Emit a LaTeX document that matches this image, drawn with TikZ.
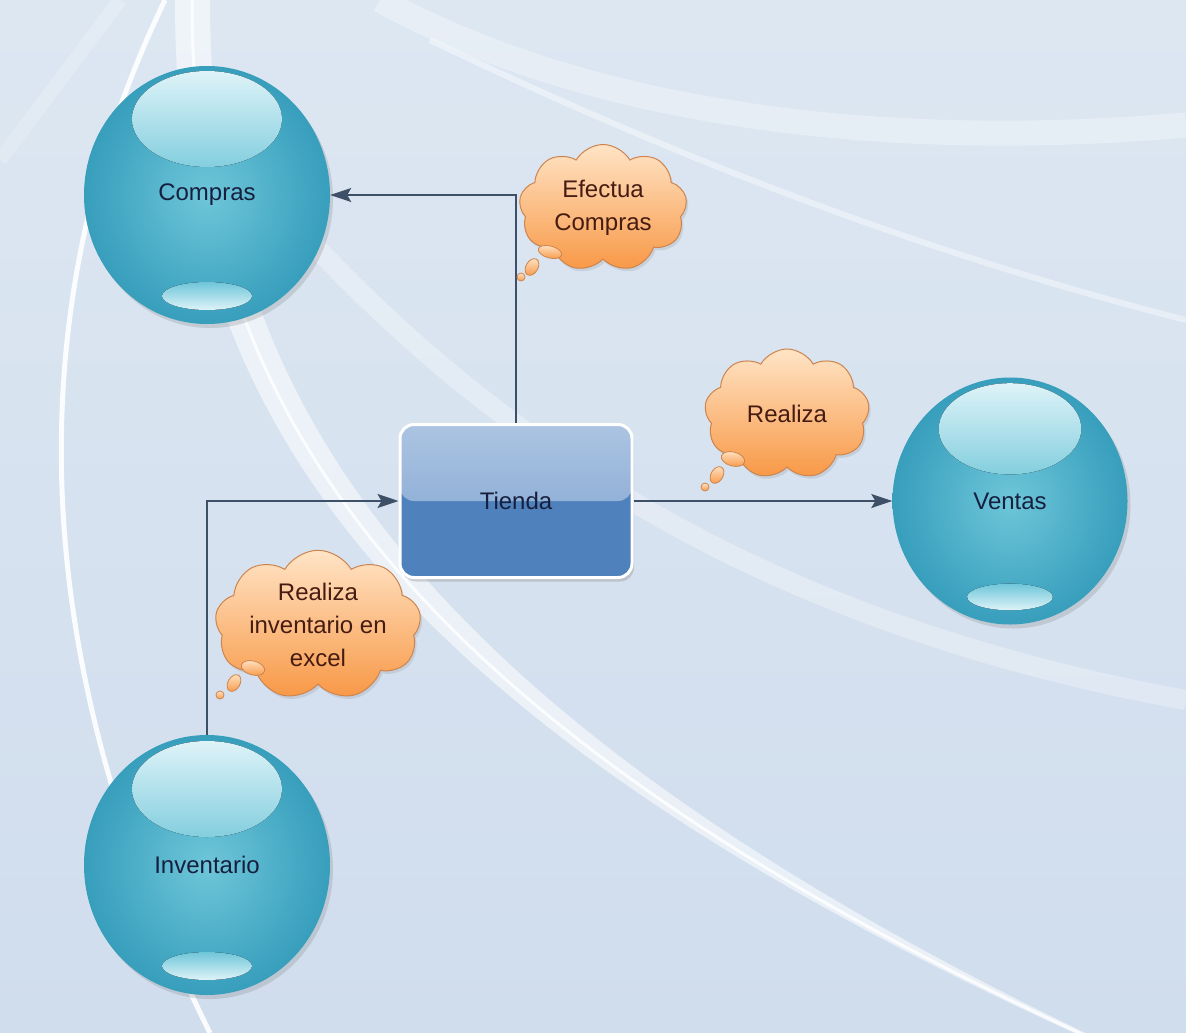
\documentclass[tikz,border=0pt]{standalone}
\usepackage{fontspec}
\setmainfont{Liberation Sans}
\usetikzlibrary{shapes.geometric,shapes.symbols,arrows.meta,shadows}
\definecolor{fondoA}{RGB}{221,231,242}
\definecolor{fondoB}{RGB}{208,221,237}
\definecolor{tealOut}{RGB}{55,158,188}
\definecolor{tealIn}{RGB}{110,198,217}
\definecolor{brillo}{RGB}{222,243,248}
\definecolor{azulArriba}{RGB}{172,196,226}
\definecolor{azulMedio}{RGB}{122,160,206}
\definecolor{azulAbajo}{RGB}{79,129,189}
\definecolor{nubeArriba}{RGB}{255,228,198}
\definecolor{nubeAbajo}{RGB}{248,152,70}
\definecolor{nubeBorde}{RGB}{205,132,78}
\definecolor{flechaC}{RGB}{62,80,104}
\definecolor{textoAzul}{RGB}{22,32,62}
\definecolor{textoNube}{RGB}{70,28,18}

\begin{document}
\begin{tikzpicture}[x=1pt,y=-1pt,
  esfera/.style={ellipse,minimum width=246pt,minimum height=258pt,inner color=tealIn,outer color=tealOut,
    text=textoAzul,font=\fontsize{24}{30}\selectfont,
    drop shadow={opacity=0.25,shadow xshift=3pt,shadow yshift=-4pt}},
  caja/.style={rectangle,rounded corners=14pt,minimum width=232pt,minimum height=153pt,draw=white,line width=3pt,
    fill=azulAbajo,text=textoAzul,font=\fontsize{24}{30}\selectfont,
    path picture={\fill[top color=azulArriba,bottom color=azulMedio] (path picture bounding box.north west) rectangle (path picture bounding box.east);},
    drop shadow={opacity=0.3,shadow xshift=2pt,shadow yshift=-4pt}},
  nube/.style={cloud,cloud puffs=9,cloud puff arc=120,cloud ignores aspect,inner sep=0pt,
    top color=nubeArriba,bottom color=nubeAbajo,draw=nubeBorde,line width=1pt,
    text=textoNube,align=center,font=\fontsize{24}{33}\selectfont,
    drop shadow={opacity=0.2,shadow xshift=2pt,shadow yshift=-3pt}},
  burbuja/.style={top color=nubeArriba,bottom color=nubeAbajo,draw=nubeBorde,line width=0.8pt},
  flecha/.style={draw=flechaC,line width=1.8pt,-{Stealth[length=21pt,width=14pt,inset=4pt]}}]

\useasboundingbox (0,0) rectangle (1186,1033);
\fill[top color=fondoA,bottom color=fondoB] (0,0) rectangle (1186,1033);

\begin{scope}
\clip (0,0) rectangle (1186,1033);
\draw[white,line width=5pt,opacity=0.9] (165,0) .. controls (20,300) and (20,650) .. (210,1033);
\fill[white,opacity=0.55] (175,0) .. controls (175,360) and (315,690) .. (1090,1040) -- (1100,1040) .. controls (345,680) and (210,340) .. (210,0) -- cycle;
\draw[white,line width=3pt,opacity=0.8] (192,0) .. controls (192,350) and (330,690) .. (1095,1040);
\draw[white,line width=25pt,opacity=0.3] (380,0) .. controls (600,120) and (900,150) .. (1186,125);
\draw[white,line width=6pt,opacity=0.4] (430,40) .. controls (700,170) and (950,260) .. (1186,320);
\draw[white,line width=20pt,opacity=0.3] (300,230) .. controls (520,470) and (800,630) .. (1186,700);
\draw[white,line width=14pt,opacity=0.18] (0,160) -- (120,0);
\end{scope}

\node[esfera] (Compras) at (207,195) {Compras};
\node[esfera,minimum width=235pt,minimum height=247pt] (Ventas) at (1010,501) {Ventas};
\node[esfera,minimum height=260pt] (Inventario) at (207,865) {Inventario};

\foreach \n/\s in {Compras/1,Ventas/0.95,Inventario/1}{
  \fill[top color=brillo,bottom color=tealIn!85!white] ([yshift={\s*76pt}]\n.center) ellipse [x radius={\s*75pt},y radius={\s*48pt}];
  \fill[top color=tealIn,bottom color=brillo] ([yshift={-\s*101pt}]\n.center) ellipse [x radius={\s*45pt},y radius={\s*14pt}];
}

\node[caja] (Tienda) at (516,501) {Tienda};

\draw[flecha] (Tienda.north) |- (Compras.east);
\draw[flecha] (Tienda.east) -- (Ventas.west);
\draw[flecha] (Inventario.north) |- (Tienda.west);

\node[nube,minimum width=168pt,minimum height=127pt] (nubeCompras) at (603,208) {Efectua\\Compras};
\node[nube,minimum width=165pt,minimum height=130pt] (nubeVentas) at (787,414) {Realiza};
\node[nube,minimum width=197pt,minimum height=126pt] (nubeInventario) at (318,625) {Realiza\\inventario en\\excel};

\foreach \x/\y/\a/\b/\r in {550/252/12/6/-15,532/267/6/9/-30,521/277/4/4/0,
                            733/459/12/7/-15,717/475/6/9/-30,705/487/4/4/0,
                            253/668/12/7/-15,234/683/6/9/-30,220/695/4/4/0}
  \path[burbuja,rotate around={\r:(\x,\y)}] (\x,\y) ellipse [x radius=\a,y radius=\b];
\end{tikzpicture}
\end{document}
